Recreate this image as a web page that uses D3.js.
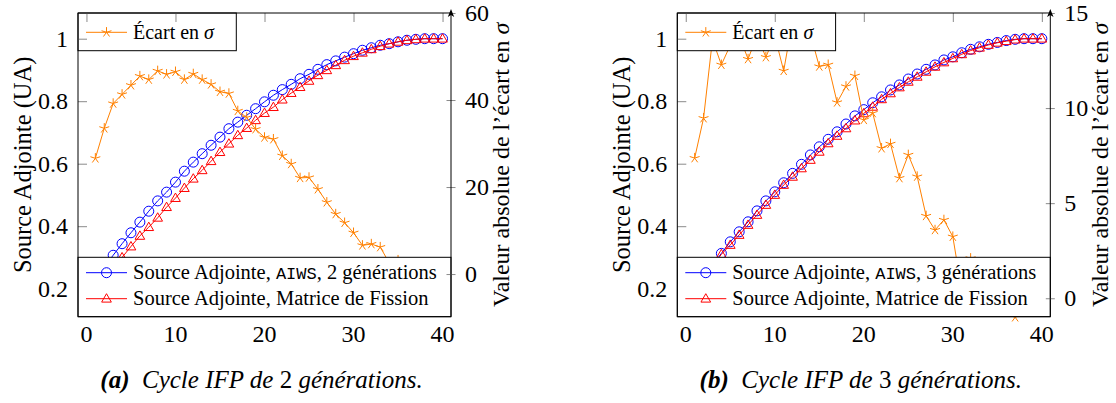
<!DOCTYPE html>
<html><head><meta charset="utf-8">
<script src="https://cdn.jsdelivr.net/npm/d3@7"></script>
<style>
html,body{margin:0;padding:0;background:#fff;}
svg{display:block;}
</style></head>
<body>
<svg id="c" width="1116" height="403"></svg>
<script>
// ---------- data ----------
const iterations = [1,2,3,4,5,6,7,8,9,10,11,12,13,14,15,16,17,18,19,20,21,22,23,24,25,26,27,28,29,30,31,32,33,34,35,36,37,38,39,40];

const aiws2 = [0.235,0.27,0.307,0.344,0.379,0.413,0.448,0.481,0.509,0.541,0.576,0.605,0.632,0.659,0.685,0.712,0.733,0.755,0.776,0.798,0.819,0.837,0.854,0.872,0.886,0.902,0.917,0.929,0.941,0.952,0.963,0.971,0.979,0.984,0.99,0.995,0.998,1.0,1.0,1.0];
const fission2 = [0.19,0.228,0.265,0.30,0.335,0.369,0.397,0.427,0.461,0.490,0.522,0.552,0.579,0.608,0.637,0.664,0.691,0.714,0.739,0.762,0.781,0.805,0.826,0.845,0.865,0.883,0.899,0.915,0.931,0.944,0.955,0.966,0.976,0.984,0.99,0.995,0.998,1.0,1.0,1.0];
const ecart2 = [26.6,33.5,39.2,41.3,43.4,45.5,44.7,46.7,45.9,46.5,44.7,46.0,44.7,43.6,41.9,41.5,37.5,36.0,33.3,31.4,31.0,27.2,25.3,22.1,22.2,19.5,16.5,13.8,11.8,9.5,6.6,6.9,6.2,2.6,3.2,2.0,1.5,1.0,0.8,0.5];

const aiws3 = [0.2,0.24,0.275,0.313,0.35,0.382,0.414,0.449,0.481,0.51,0.539,0.569,0.598,0.628,0.654,0.678,0.702,0.727,0.753,0.773,0.795,0.814,0.836,0.852,0.871,0.887,0.902,0.916,0.932,0.942,0.955,0.966,0.974,0.982,0.988,0.994,0.998,1.0,1.0,1.0];
const fission3 = [0.2,0.235,0.272,0.31,0.34,0.372,0.404,0.436,0.468,0.5,0.532,0.558,0.585,0.612,0.638,0.665,0.689,0.713,0.738,0.761,0.782,0.806,0.825,0.844,0.862,0.878,0.894,0.91,0.924,0.937,0.95,0.962,0.971,0.98,0.987,0.992,0.997,1.0,1.0,1.0];
const ecart3 = [7.37,9.47,13.6,12.28,13.3,13.8,12.58,13.8,12.68,13.8,11.96,14.6,14.2,13.9,12.19,12.28,10.3,11.14,11.7,9.38,9.74,7.89,8.12,6.32,7.54,6.4,4.33,3.59,4.12,3.24,0.4,2.1,1.2,0.9,0.5,0.3,-1.0,0.4,0.2,0.1];

const xTicks = [0,10,20,30,40];
const yLeftTicks = [0.2,0.4,0.6,0.8,1];
const yRightTicks2 = [0,20,40,60];
const yRightTicks3 = [0,5,10,15];

const leftLabel = "Source Adjointe (UA)";
const rightLabelParts = ["Valeur absolue de l\u2019écart en ", "σ"];
const ecartLegendParts = ["Écart en ", "σ"];

// ---------- drawing ----------
const SERIF = "Liberation Serif";
const MONO = "Liberation Mono";
const svg = d3.select("#c");
const BLUE = "#0000ff", RED = "#ff0000", ORANGE = "#ff8000", TICK = "#8a8a8a";

function txt(x, y, size, opts={}){
  const t = svg.append("text").attr("x",x).attr("y",y)
    .style("font-family",`"${SERIF}"`).attr("font-size",size).attr("fill","#000");
  if (opts.anchor) t.attr("text-anchor",opts.anchor);
  if (opts.transform) t.attr("transform",opts.transform);
  return t;
}
// every piece of text lives in a tspan that carries its own font family
function span(t, s, opts={}){
  const fam = opts.mono ? MONO : SERIF;
  const ts = t.append("tspan").attr("font-family",fam).style("font-family",`"${fam}"`).text(s);
  if (opts.size) ts.attr("font-size",opts.size);
  if (opts.italic) ts.attr("font-style","italic");
  if (opts.bold) ts.attr("font-weight","bold");
  return ts;
}

function markCircle(g, x, y, c){ g.append("circle").attr("cx",x).attr("cy",y).attr("r",5).attr("fill","none").attr("stroke",c).attr("stroke-width",1); }
function markTri(g, x, y, c){
  const r = 5.6, pts = [0,120,240].map(a => { const t=(a-90)*Math.PI/180; return [x+r*Math.cos(t), y+r*Math.sin(t)+0.6]; });
  g.append("polygon").attr("points", pts.map(p=>p.join(",")).join(" ")).attr("fill","none").attr("stroke",c).attr("stroke-width",1);
}
function markStar(g, x, y, c){
  const r = 5.2;
  let d = "";
  for (let k=0;k<5;k++){ const t=(-90+72*k)*Math.PI/180; d += `M${x},${y}L${x+r*Math.cos(t)},${y+r*Math.sin(t)}`; }
  g.append("path").attr("d",d).attr("stroke",c).attr("stroke-width",1).attr("fill","none");
}

function drawChart(o){
  const L = o.left, R = o.left + 373, T = 13, B = 316.7;
  const g = svg.append("g");
  const x = d3.scaleLinear().domain([-0.95, 40.95]).range([L, R]);
  const y = d3.scaleLinear().domain([0.1104, 1.0822]).range([B, T]);
  const y2 = d3.scaleLinear().domain(o.rDomain).range([B, T]);

  const clipId = "clip" + o.id;
  svg.append("clipPath").attr("id", clipId).append("rect").attr("x",L).attr("y",T).attr("width",R-L).attr("height",B-T);

  const line1 = d3.line().x((d,i)=>x(iterations[i])).y(d=>y(d));
  const line2 = d3.line().x((d,i)=>x(iterations[i])).y(d=>y2(d));

  const p1 = g.append("g");
  p1.append("path").datum(o.blue).attr("d", line1).attr("clip-path",`url(#${clipId})`).attr("fill","none").attr("stroke",BLUE).attr("stroke-width",1);
  o.blue.forEach((v,i)=>markCircle(p1, x(iterations[i]), y(v), BLUE));
  p1.append("path").datum(o.red).attr("d", line1).attr("clip-path",`url(#${clipId})`).attr("fill","none").attr("stroke",RED).attr("stroke-width",1);
  o.red.forEach((v,i)=>markTri(p1, x(iterations[i]), y(v), RED));

  const p2 = g.append("g");
  p2.append("path").datum(o.orange).attr("d", line2).attr("clip-path",`url(#${clipId})`).attr("fill","none").attr("stroke",ORANGE).attr("stroke-width",1);
  o.orange.forEach((v,i)=>markStar(p2, x(iterations[i]), y2(v), ORANGE));

  // top legend
  g.append("rect").attr("x",L).attr("y",T).attr("width",158.3).attr("height",37.7).attr("fill","#fff").attr("stroke","#000").attr("stroke-width",1);
  g.append("line").attr("x1",L+8).attr("x2",L+49).attr("y1",32.3).attr("y2",32.3).attr("stroke",ORANGE).attr("stroke-width",1);
  markStar(g, L+28.5, 32.3, ORANGE);

  // tick lines via d3 axes
  const ax = g.append("g").attr("transform",`translate(${L},0)`)
    .call(d3.axisLeft(y).tickValues(yLeftTicks).tickSize(-9).tickFormat(""));
  ax.select(".domain").remove();
  ax.selectAll("line").attr("stroke",TICK);
  const axTop = g.append("g").attr("transform",`translate(0,${T})`)
    .call(d3.axisTop(x).tickValues(xTicks).tickSize(-9).tickFormat(""));
  axTop.select(".domain").remove();
  axTop.selectAll("line").attr("stroke",TICK);

  // bottom legend box
  g.append("rect").attr("x",L).attr("y",257.3).attr("width",R-L).attr("height",B-257.3).attr("fill","#fff").attr("stroke","#000").attr("stroke-width",1);
  const rows = [{c:BLUE, m:markCircle, y:272.7, parts:[["Source Adjointe, ",false],["AIWS",true],[`, ${o.gen} générations`,false]]},
                {c:RED, m:markTri, y:298.7, parts:[["Source Adjointe, Matrice de Fission",false]]}];
  rows.forEach(r=>{
    g.append("line").attr("x1",L+8).attr("x2",L+49).attr("y1",r.y).attr("y2",r.y).attr("stroke",r.c).attr("stroke-width",1);
    r.m(g, L+28.5, r.y, r.c);
  });

  // frame
  g.append("path").attr("d",`M${R},${T}H${L}V${B}H${R}`).attr("fill","none").attr("stroke","#000").attr("stroke-width",1);

  // right axis ticks
  const axR = g.append("g").attr("transform",`translate(${R},0)`)
    .call(d3.axisRight(y2).tickValues(o.rTicks).tickSize(4.5).tickFormat(""));
  axR.select(".domain").remove();
  axR.selectAll("line").attr("x1",-4.5).attr("x2",4.5).attr("stroke",TICK);
  g.append("line").attr("x1",R).attr("x2",R).attr("y1",B).attr("y2",14).attr("stroke","#000").attr("stroke-width",1);
  g.append("path").attr("d",`M${R},9L${R+3.2},17L${R},15L${R-3.2},17Z`).attr("fill","#000");

  // ---- texts ----
  const lt = txt(L+55, 38.5, 20);
  span(lt, ecartLegendParts[0]);
  span(lt, ecartLegendParts[1], {italic:true});

  rows.forEach(r=>{
    const t = txt(L+55, r.y+6.5, 20.5);
    r.parts.forEach(p=>span(t, p[0], p[1] ? {mono:true, size:17} : {}));
  });

  yLeftTicks.forEach(v => span(txt(L-10, y(v)+8, 24, {anchor:"end"}), v===1 ? "1" : d3.format(".1f")(v)));
  xTicks.forEach(v => span(txt(x(v), B+25, 24, {anchor:"middle"}), String(v)));
  o.rTicks.forEach(v => span(txt(R+14, y2(v)+8, 24), String(v)));

  span(txt(0, 0, 24.5, {anchor:"middle", transform:`translate(${L-47},${(T+B)/2}) rotate(-90)`}), leftLabel);
  const rl = txt(0, 0, 24, {anchor:"middle", transform:`translate(${R+58},${(T+B)/2}) rotate(-90)`});
  span(rl, rightLabelParts[0]);
  span(rl, rightLabelParts[1], {italic:true});

  const cap = txt((L+R)/2-3, 388, 25, {anchor:"middle"});
  span(cap, `(${o.letter})`, {italic:true, bold:true});
  span(cap, "\u00a0 Cycle IFP de ", {italic:true});
  span(cap, o.gen);
  span(cap, " générations.", {italic:true});
}

drawChart({id:"a", left:78, blue:aiws2, red:fission2, orange:ecart2, rDomain:[-9.8,60], rTicks:yRightTicks2, gen:"2", letter:"a"});
drawChart({id:"b", left:677.3, blue:aiws3, red:fission3, orange:ecart3, rDomain:[-0.97,15], rTicks:yRightTicks3, gen:"3", letter:"b"});
</script>
</body></html>
